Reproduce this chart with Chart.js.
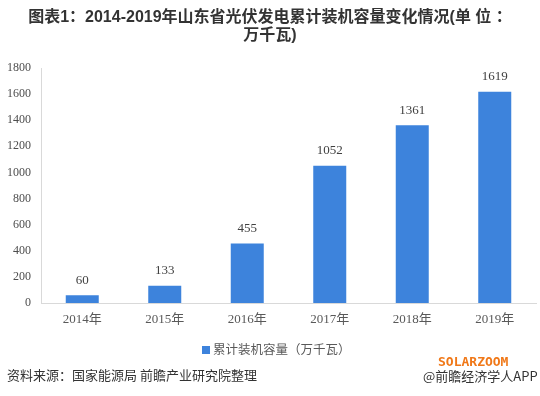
<!DOCTYPE html>
<html>
<head>
<meta charset="utf-8">
<script src="https://cdn.jsdelivr.net/npm/chart.js@4"></script>
<style>
  html, body { margin:0; padding:0; background:#fff; }
  #wrap { position:relative; width:540px; height:396px; overflow:hidden; background:#fff; }
  #c { position:absolute; left:0; top:0; }
  .t { position:absolute; white-space:nowrap; }
  #title { left:0; width:540px; top:8px; text-align:center; font:bold 16px/18px "Liberation Sans","Noto Sans CJK SC",sans-serif; color:#333; }
  #legend { left:202px; top:341px; font:12.5px/16px "Noto Sans CJK SC",sans-serif; color:#595959; }
  #legend span.sw { display:inline-block; width:8px; height:8px; background:#3d83dc; margin-right:3px; vertical-align:0px; }
  #src { left:7px; top:366px; font:13px/18px "Noto Sans CJK SC",sans-serif; color:#333; }
  #solar { left:438px; top:354px; font:bold 13px/15px "DejaVu Sans Mono","Liberation Mono",monospace; color:#f07818; }
  #app { left:423px; top:367px; font:13px/17px "Noto Sans CJK SC",sans-serif; color:#333; }
</style>
</head>
<body>
<div id="wrap">
  <canvas id="c" width="540" height="396"></canvas>
  <div class="t" id="title">图表1：2014-2019年山东省光伏发电累计装机容量变化情况(单 位 ：<br>万千瓦)</div>
  <div class="t" id="legend"><span class="sw"></span>累计装机容量（万千瓦）</div>
  <div class="t" id="src">资料来源：国家能源局 前瞻产业研究院整理</div>
  <div class="t" id="solar">SOLARZOOM</div>
  <div class="t" id="app">@前瞻经济学人APP</div>
</div>
<script>
const categories = ["2014年","2015年","2016年","2017年","2018年","2019年"];
const capacity = [60, 133, 455, 1052, 1361, 1619];
const seriesName = "累计装机容量（万千瓦）";
const yMin = 0, yMax = 1800, yStep = 200;

const valueLabels = {
  id: 'valueLabels',
  afterDatasetsDraw(chart) {
    const ctx = chart.ctx;
    const meta = chart.getDatasetMeta(0);
    ctx.save();
    ctx.font = '13px "Liberation Serif", serif';
    ctx.fillStyle = '#404040';
    ctx.textAlign = 'center';
    ctx.textBaseline = 'middle';
    meta.data.forEach((bar, i) => {
      ctx.fillText(String(chart.data.datasets[0].data[i]), bar.x, bar.y - 15);
    });
    ctx.restore();
  }
};

new Chart(document.getElementById('c'), {
  type: 'bar',
  data: {
    labels: categories,
    datasets: [{
      label: seriesName,
      data: capacity,
      backgroundColor: '#3d83dc',
      borderWidth: 0,
      categoryPercentage: 1,
      barPercentage: 0.4
    }]
  },
  options: {
    responsive: false,
    animation: false,
    devicePixelRatio: 1,
    layout: { padding: { top: 68, right: 4, left: 0, bottom: 0 } },
    plugins: {
      legend: { display: false },
      title: { display: false },
      tooltip: { enabled: false }
    },
    scales: {
      x: {
        grid: { display: false, drawTicks: false },
        border: { display: true, color: '#d9d9d9', width: 1 },
        ticks: {
          color: '#595959',
          font: { family: '"Liberation Serif", "Noto Sans CJK SC", serif', size: 13 },
          padding: 9,
          maxRotation: 0
        },
        afterFit(s) { s.height = 93; }
      },
      y: {
        min: yMin, max: yMax,
        grid: { display: false, drawTicks: false },
        border: { display: true, color: '#d9d9d9', width: 1 },
        ticks: {
          stepSize: yStep,
          color: '#4d4d4d',
          font: { family: '"Liberation Serif", serif', size: 12 },
          padding: 10,
          callback: (v) => String(v)
        },
        afterFit(s) { s.width = 41; }
      }
    }
  },
  plugins: [valueLabels]
});
</script>
</body>
</html>
